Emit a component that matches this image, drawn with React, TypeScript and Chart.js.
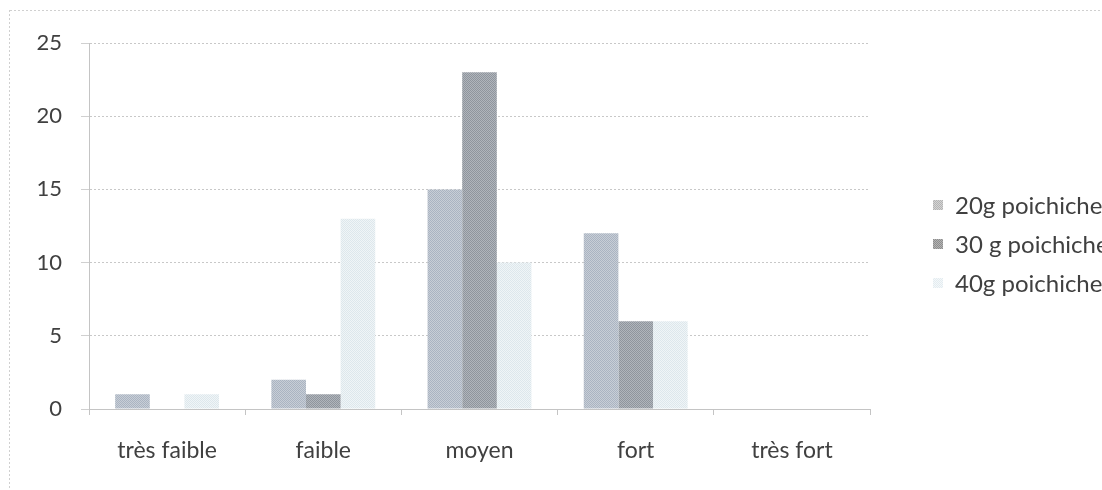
import React, { useEffect, useRef } from "react";
import { Chart, registerables } from "chart.js";

Chart.register(...registerables);

// Intensity scale and the three chickpea doses
const categories = ["très faible", "faible", "moyen", "fort", "très fort"];
const seriesLabels = ["20g poichiche", "30 g poichiche", "40g poichiche"];
const values20g = [1, 2, 15, 12, 0];
const values30g = [0, 1, 23, 6, 0];
const values40g = [1, 13, 10, 6, 0];
const yMax = 25;
const yStep = 5;

// Two-tone fills give the bars their stippled look
const barTones: [string, string][] = [
  ["#aab4c2", "#c8ced6"],
  ["#8f959d", "#b0b5bb"],
  ["#dde7ec", "#f0f5f7"],
];
const swatchTones: [string, string][] = [
  ["#b4b4b4", "#d4d4d4"],
  ["#8e8e8e", "#b4b4b4"],
  ["#e4ecf0", "#f4f8fa"],
];

const FONT = "Lato, 'Liberation Sans', sans-serif";
const TEXT = "#404040";

function stipple(a: string, b: string): CanvasPattern | string {
  const cv = document.createElement("canvas");
  cv.width = 2;
  cv.height = 2;
  const c = cv.getContext("2d");
  if (!c) return a;
  c.fillStyle = b;
  c.fillRect(0, 0, 2, 2);
  c.fillStyle = a;
  c.fillRect(0, 0, 1, 1);
  c.fillRect(1, 1, 1, 1);
  return c.createPattern(cv, "repeat") || a;
}

// Right-hand legend and the faint outer frame
const sideLegend = {
  id: "sideLegend",
  afterDraw(chart: Chart) {
    const ctx = chart.ctx;
    ctx.save();
    ctx.strokeStyle = "#d0d0d0";
    ctx.lineWidth = 1;
    ctx.setLineDash([2, 2]);
    ctx.beginPath();
    ctx.moveTo(9.5, 10);
    ctx.lineTo(9.5, 490);
    ctx.moveTo(10, 10.5);
    ctx.lineTo(1102, 10.5);
    ctx.stroke();
    ctx.setLineDash([]);

    const x0 = 933;
    const mid = (chart.chartArea.top + chart.chartArea.bottom) / 2;
    const top = mid - 21;
    chart.data.datasets.forEach((ds, i) => {
      const y = top + i * 39;
      const tones = swatchTones[i];
      ctx.fillStyle = stipple(tones[0], tones[1]) as any;
      ctx.fillRect(x0, y - 5, 10, 10);
      ctx.fillStyle = TEXT;
      ctx.font = `24px ${FONT}`;
      ctx.textBaseline = "middle";
      ctx.textAlign = "left";
      ctx.fillText(String(ds.label), x0 + 22, y + 1);
    });
    ctx.restore();
  },
};

export default function App() {
  const canvasRef = useRef<HTMLCanvasElement | null>(null);

  useEffect(() => {
    if (!canvasRef.current) return;
    const seriesValues = [values20g, values30g, values40g];
    const chart = new Chart(canvasRef.current, {
      type: "bar",
      data: {
        labels: categories,
        datasets: seriesValues.map((vals, i) => ({
          label: seriesLabels[i],
          data: vals,
          backgroundColor: stipple(barTones[i][0], barTones[i][1]) as any,
          borderWidth: 0,
          barPercentage: 1,
          categoryPercentage: 0.665,
        })),
      },
      options: {
        animation: false,
        responsive: true,
        maintainAspectRatio: false,
        layout: { padding: { top: 43, right: 232, left: 0, bottom: 0 } },
        plugins: {
          legend: { display: false },
          tooltip: { enabled: false },
        },
        scales: {
          x: {
            offset: true,
            grid: {
              offset: true,
              drawOnChartArea: false,
              drawTicks: true,
              tickLength: 6,
              tickColor: "#c4c4c4",
            },
            border: { display: true, color: "#c4c4c4", width: 1 },
            ticks: {
              color: TEXT,
              font: { family: FONT, size: 23 },
              padding: 22,
              maxRotation: 0,
            },
            afterFit: (s: any) => {
              s.height = 81;
            },
          },
          y: {
            min: 0,
            max: yMax,
            ticks: {
              stepSize: yStep,
              color: TEXT,
              font: { family: FONT, size: 22 },
              padding: 19,
            },
            grid: {
              color: "#c8c8c8",
              lineWidth: 1,
              drawTicks: true,
              tickLength: 8,
              tickColor: "#d0d0d0",
            },
            border: { display: true, color: "#c4c4c4", width: 1, dash: [2, 2] },
            afterFit: (s: any) => {
              s.width = 89;
            },
          },
        },
      },
      plugins: [sideLegend],
    });
    return () => chart.destroy();
  }, []);

  return (
    <div
      style={{
        position: "fixed",
        left: 0,
        top: 0,
        width: 1102,
        height: 490,
        background: "#ffffff",
        overflow: "hidden",
      }}
    >
      <canvas ref={canvasRef} />
    </div>
  );
}
